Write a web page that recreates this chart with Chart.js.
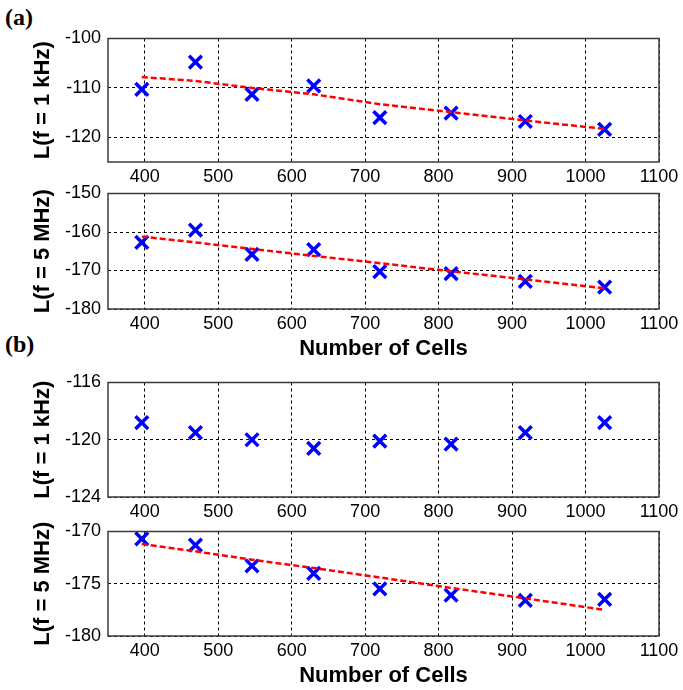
<!DOCTYPE html>
<html>
<head>
<meta charset="utf-8">
<script src="https://cdn.jsdelivr.net/npm/chart.js@4"></script>
<style>
  body { margin: 0; background: #fff; width: 683px; height: 690px; overflow: hidden; position: relative; }
  .panel { position: absolute; left: 0; }
  .tag { position: absolute; left: 5px; font: bold 24px "Liberation Serif", "Times New Roman", serif; color: #000; }
</style>
</head>
<body>
<div class="tag" style="top:4px">(a)</div>
<div class="tag" style="top:331px">(b)</div>
<canvas id="a1k" class="panel"></canvas>
<canvas id="a5M" class="panel"></canvas>
<canvas id="b1k" class="panel"></canvas>
<canvas id="b5M" class="panel"></canvas>
<script>
// number of cells (x positions of the measurements)
const cells = [396, 469, 546, 630, 720, 817, 918, 1026];

// (a) measured phase noise and fitted trend
const a1k    = [-110.3, -104.8, -111.3, -109.6, -116.0, -115.1, -116.8, -118.4];
const a1kFit = [-107.8, -108.6, -110.0, -111.3, -113.3, -114.9, -116.6, -118.3];
const a5M    = [-162.7, -159.5, -165.8, -164.6, -170.3, -170.8, -172.8, -174.3];
const a5MFit = [-161.2, -162.7, -164.4, -166.2, -168.1, -170.2, -172.3, -174.6];

// (b) measured phase noise and fitted trend
const b1k    = [-118.8, -119.5, -120.0, -120.6, -120.1, -120.3, -119.5, -118.8];
const b5M    = [-170.7, -171.3, -173.3, -174.0, -175.5, -176.1, -176.6, -176.5];
const b5MFit = [-171.2, -171.9, -172.7, -173.5, -174.4, -175.4, -176.4, -177.5];

// tick labels
const xTicks = [400, 500, 600, 700, 800, 900, 1000, 1100];
const yTicksA1k = [-120, -110, -100];
const yTicksA5M = [-180, -170, -160, -150];
const yTicksB1k = [-124, -120, -116];
const yTicksB5M = [-180, -175, -170];

const boxPlugin = {
  id: 'box',
  beforeDatasetsDraw(chart) {
    const { ctx, chartArea: a } = chart;
    ctx.save();
    ctx.strokeStyle = '#3a3a3a';
    ctx.lineWidth = 1.5;
    ctx.strokeRect(a.left, a.top, a.right - a.left, a.bottom - a.top);
    ctx.restore();
  }
};

const tickFont = { family: '"Liberation Sans", Arial, sans-serif', size: 18 };
const titleFont = { family: '"Liberation Sans", Arial, sans-serif', size: 22, weight: 'bold' };

function pts(ys) {
  return cells.map((x, i) => ({ x: x, y: ys[i] }));
}

function makePanel(id, top, bottom, xh, yTitle, yMin, yMax, yTicks, meas, fit, xTitle) {
  const canvas = document.getElementById(id);
  canvas.width = 683;
  canvas.height = bottom - top + 12 + xh;
  canvas.style.top = (top - 12) + 'px';

  const datasets = [];
  if (fit) {
    datasets.push({
      data: pts(fit),
      showLine: true,
      borderColor: '#ff0000',
      borderWidth: 2.5,
      borderDash: [6, 3],
      pointRadius: 0,
      tension: 0
    });
  }
  datasets.push({
    data: pts(meas),
    showLine: false,
    pointStyle: 'crossRot',
    pointRadius: 9,
    pointBorderWidth: 3.5,
    pointBorderColor: '#0000ff',
    pointBackgroundColor: '#0000ff'
  });

  new Chart(canvas, {
    type: 'scatter',
    data: { datasets: datasets },
    plugins: [boxPlugin],
    options: {
      responsive: false,
      animation: false,
      devicePixelRatio: 1,
      layout: { padding: { top: 12, right: 24, left: 0, bottom: 0 } },
      plugins: { legend: { display: false }, tooltip: { enabled: false } },
      scales: {
        x: {
          type: 'linear',
          min: 350,
          max: 1100,
          afterBuildTicks: s => { s.ticks = xTicks.map(v => ({ value: v })); },
          afterFit: s => { s.height = xh; s.paddingLeft = 0; s.paddingRight = 0; },
          ticks: { font: tickFont, color: '#000', padding: 4, maxRotation: 0, callback: v => String(v) },
          grid: { color: '#000', lineWidth: 1, drawTicks: false },
          border: { display: false, dash: [3, 3] },
          title: {
            display: !!xTitle,
            text: xTitle || '',
            font: titleFont,
            color: '#000',
            padding: { top: 0, bottom: 0 }
          }
        },
        y: {
          type: 'linear',
          min: yMin,
          max: yMax,
          afterBuildTicks: s => { s.ticks = yTicks.map(v => ({ value: v })); },
          afterFit: s => { s.width = 108; s.paddingTop = 0; s.paddingBottom = 0; },
          ticks: { font: tickFont, color: '#000', padding: 7, callback: v => String(v) },
          grid: { color: '#000', lineWidth: 1, drawTicks: false },
          border: { display: false, dash: [3, 3] },
          title: {
            display: true,
            text: yTitle,
            font: titleFont,
            color: '#000',
            padding: { top: 30, bottom: 0 }
          }
        }
      }
    }
  });
}

makePanel('a1k', 38, 162, 28, 'L(f = 1 kHz)', -125, -100, yTicksA1k, a1k, a1kFit, null);
makePanel('a5M', 193, 309, 53, 'L(f = 5 MHz)', -180, -150, yTicksA5M, a5M, a5MFit, 'Number of Cells');
makePanel('b1k', 382, 497, 28, 'L(f = 1 kHz)', -124, -116, yTicksB1k, b1k, null, null);
makePanel('b5M', 531, 636, 53, 'L(f = 5 MHz)', -180, -170, yTicksB5M, b5M, b5MFit, 'Number of Cells');
</script>
</body>
</html>
